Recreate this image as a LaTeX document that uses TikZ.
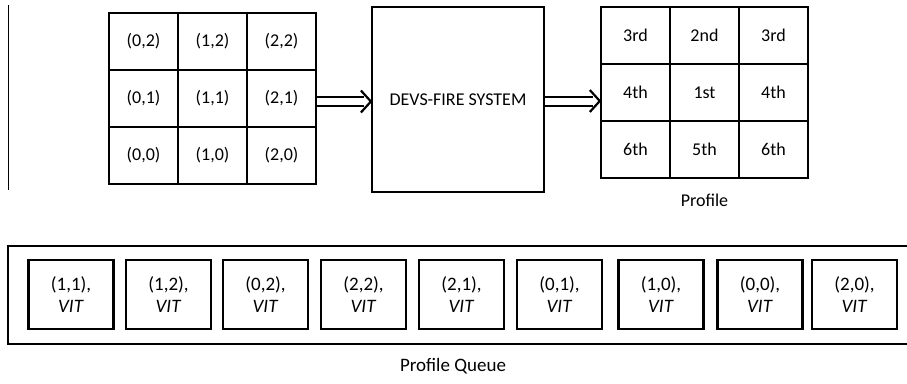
\documentclass[tikz,border=0pt]{standalone}
\usepackage{fontspec}
\setmainfont{Carlito}

\tikzset{
  cell/.style={draw, line width=2.4pt, minimum width=69pt, minimum height=57pt, inner sep=0pt, font=\fontsize{18}{20}\selectfont},
  qitem/.style={draw, line width=2.2pt, minimum width=85pt, minimum height=69pt, inner sep=0pt, align=center, font=\fontsize{19}{22}\selectfont},
  shaft/.style={line width=2pt},
  chevron/.style={line width=2.2pt, miter limit=4}
}
% hollow double arrow from #1 to #2
\newcommand{\dblarrow}[2]{%
  \draw[shaft] ([yshift=4.5pt]#1) -- ([xshift=-7pt,yshift=4.5pt]#2);
  \draw[shaft] ([yshift=-4.5pt]#1) -- ([xshift=-7pt,yshift=-4.5pt]#2);
  \draw[chevron] ([xshift=-10pt,yshift=11pt]#2) -- (#2) -- ([xshift=-10pt,yshift=-11pt]#2);
}

\begin{document}
\begin{tikzpicture}[x=1pt, y=-1pt]
\useasboundingbox (0,0) rectangle (907,383);

\draw[line width=0.9pt] (8,5) -- (8,190);

% input grid
\foreach \i in {0,1,2} {
  \foreach \j in {0,1,2} {
    \pgfmathtruncatemacro{\r}{2-\j}
    \node[cell] (in\i\r) at (143.5+69*\i, 41.5+57*\j) {(\i,\r)};
  }
}

\node[draw, line width=2.2pt, minimum width=172pt, minimum height=185pt, font=\fontsize{18}{20}\selectfont] (devs) at (458,99.5) {DEVS-FIRE SYSTEM};

% profile
\node[cell] (p00) at (635.5,35.5) {3rd};
\node[cell] (p10) at (704.5,35.5) {2nd};
\node[cell] (p20) at (773.5,35.5) {3rd};
\node[cell] (p01) at (635.5,92.5) {4th};
\node[cell] (p11) at (704.5,92.5) {1st};
\node[cell] (p21) at (773.5,92.5) {4th};
\node[cell] (p02) at (635.5,149.5) {6th};
\node[cell] (p12) at (704.5,149.5) {5th};
\node[cell] (p22) at (773.5,149.5) {6th};
\node[font=\fontsize{18}{20}\selectfont] (plabel) at (704.5,200) {Profile};

\coordinate (a1) at ([yshift=-3pt]in21.east);
\coordinate (b1) at (devs.west |- a1);
\coordinate (a2) at ([yshift=-1.5pt]devs.east);
\coordinate (b2) at (p01.west |- a2);
\dblarrow{a1}{b1}
\dblarrow{a2}{b2}

% profile queue
\draw[line width=2.2pt] (8,246) rectangle (915,344);
\foreach \x/\c in {71/{(1,1)}, 168.5/{(1,2)}, 265.5/{(0,2)}, 363.5/{(2,2)}, 461.5/{(2,1)}, 559.5/{(0,1)}, 661/{(1,0)}, 760/{(0,0)}, 854.5/{(2,0)}} {
  \node[qitem] at (\x,294.5) {\c,\\\textit{VIT}};
}
\node[font=\fontsize{19}{22}\selectfont] (qlabel) at (453,366) {Profile Queue};

\end{tikzpicture}
\end{document}
